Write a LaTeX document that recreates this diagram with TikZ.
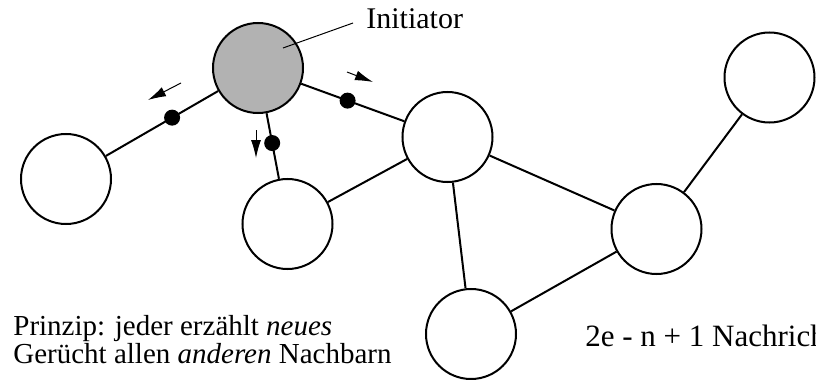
\documentclass[tikz,border=0pt]{standalone}
\usepackage{fontspec}
\setmainfont{Liberation Serif}
\usetikzlibrary{arrows.meta}
\begin{document}
\begin{tikzpicture}[x=0.5pt, y=-0.5pt,
  peer/.style={circle, draw, line width=1pt, minimum size=45pt, inner sep=0pt},
  msg/.style={circle, fill=black, minimum size=8pt, inner sep=0pt},
  link/.style={line width=1pt},
  hint/.style={-{Latex[length=9pt, width=5pt]}, line width=0.5pt},
  txt/.style={font=\fontsize{14.5}{17}\selectfont, inner sep=0pt}]
  \useasboundingbox (0,0) rectangle (816,380);
  \node[peer, fill=black!30] (init) at (258,68) {};
  \node[peer] (left) at (66,179) {};
  \node[peer] (low) at (287.5,224) {};
  \node[peer] (mid) at (447.5,137) {};
  \node[peer] (right) at (656.5,229) {};
  \node[peer] (far) at (769.5,77.5) {};
  \node[peer] (bottom) at (471,334) {};
  \draw[link] (init) -- node[msg, pos=0.41] (mleft) {} (left);
  \draw[link] (init) -- node[msg, pos=0.455] (mlow) {} (low);
  \draw[link] (init) -- node[msg, pos=0.45] (mmid) {} (mid);
  \draw[link] (low) -- (mid);
  \draw[link] (mid) -- (right);
  \draw[link] (mid) -- (bottom);
  \draw[link] (bottom) -- (right);
  \draw[link] (right) -- (far);
  \coordinate (amids) at (347,72);
  \coordinate (amide) at (373,82);
  \coordinate (alows) at (256,130);
  \coordinate (alowe) at (256,158);
  \coordinate (alefts) at (181,83);
  \coordinate (alefte) at (148,100);
  \draw[hint] (amids) -- (amide);
  \draw[hint] (alows) -- (alowe);
  \draw[hint] (alefts) -- (alefte);
  \node[txt, font=\fontsize{15}{17}\selectfont, anchor=base west] (initlabel) at (366,28) {Initiator};
  \coordinate (initpt) at (283,48);
  \coordinate (labelend) at (353,23);
  \draw[line width=0.5pt] (initpt) -- (labelend);
  \node[txt, anchor=base west] (prinzip) at (13,335) {Prinzip: jeder erzählt \textit{neues}};
  \node[txt, anchor=base west] (geruecht) at (13,363) {Gerücht allen \textit{anderen} Nachbarn};
  \node[txt, font=\fontsize{15.5}{17}\selectfont, anchor=base west] (count) at (585,346) {2e - n + 1 Nachrichten};
\end{tikzpicture}
\end{document}
